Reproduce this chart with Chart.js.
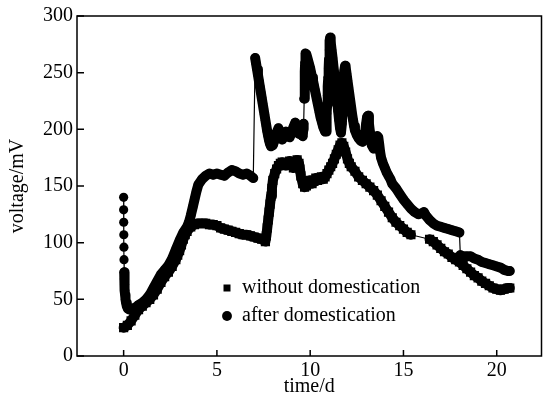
<!DOCTYPE html>
<html><head><meta charset="utf-8">
<script src="https://cdn.jsdelivr.net/npm/chart.js@4/dist/chart.umd.min.js"></script>
<style>html,body{margin:0;padding:0;background:#fff}</style>
</head><body>
<canvas id="c" width="548" height="405"></canvas>
<script>
const xTicks = [0, 5, 10, 15, 20];
const yTicks = [0, 50, 100, 150, 200, 250, 300];
const seriesNames = ['without domestication', 'after domestication'];

const withoutT = [0,0.2,0.4,0.6,0.8,1.0,1.2,1.4,1.6,1.8,
  2.0,2.2,2.4,2.6,2.8,2.9,3.0,3.1,3.2,3.3,
  3.4,3.6,3.8,4.0,4.2,4.4,4.6,4.8,5.0,5.2,
  5.4,5.6,5.8,6.0,6.2,6.4,6.6,6.8,7.0,7.2,
  7.4,7.6,7.65,7.7,7.75,7.8,7.85,7.9,7.95,8.0,
  8.1,8.2,8.3,8.4,8.5,8.6,8.7,8.8,8.9,9.0,
  9.1,9.2,9.3,9.4,9.45,9.5,9.6,9.7,9.8,9.9,
  10.0,10.1,10.2,10.3,10.4,10.5,10.6,10.7,10.8,10.9,
  11.0,11.1,11.2,11.3,11.4,11.5,11.6,11.7,11.8,11.9,
  12.0,12.1,12.2,12.4,12.6,12.8,13.0,13.2,13.4,13.6,
  13.8,14.0,14.2,14.4,14.6,14.8,15.0,15.2,15.4,16.4,
  16.6,16.8,17.0,17.2,17.4,17.6,17.8,18.0,18.2,18.4,
  18.6,18.8,19.0,19.2,19.4,19.6,19.8,20.0,20.2,20.4,
  20.6,20.7];
const withoutV = [25,27,31,36,41,44,47,50,54,59,
  65,70,74,79,85,89,93,98,103,107,
  110,114,116,117,117,117,116,116,115,113,
  112,111,110,109,108,107,107,106,105,104,
  103,101,106,113,120,127,134,141,148,155,
  161,165,168,170,171,170,168,170,172,169,
  166,169,173,170,165,159,152,149,150,153,
  155,152,154,157,155,157,158,156,158,161,
  164,167,170,174,178,182,186,188,185,180,
  174,170,167,163,158,155,152,149,146,142,
  137,132,127,122,118,115,112,109,107,103,
  101,98,95,92,90,87,85,83,80,77,
  74,71,69,66,64,62,60,59,58,59,
  60,60];

const afterT = [0,0,0.005,0.01,0.015,0.02,0.03,0.04,0.05,0.06,
  0.08,0.1,0.13,0.17,0.22,0.3,0.4,0.5,0.65,0.8,
  1.0,1.2,1.4,1.6,1.8,2.0,2.2,2.4,2.6,2.8,
  3.0,3.2,3.4,3.5,3.6,3.7,3.8,3.9,4.0,4.2,
  4.4,4.6,4.8,5.0,5.2,5.4,5.6,5.8,6.0,6.2,
  6.4,6.6,6.8,6.95,7.05,7.1,7.15,7.2,7.25,7.3,
  7.35,7.4,7.45,7.5,7.55,7.6,7.65,7.7,7.75,7.8,
  7.85,7.9,8.0,8.1,8.2,8.3,8.4,8.5,8.6,8.7,
  8.8,8.9,9.0,9.1,9.2,9.3,9.4,9.5,9.6,9.63,
  9.65,9.68,9.7,9.71,9.72,9.73,9.75,9.8,9.85,9.9,
  9.95,10.0,10.05,10.1,10.15,10.2,10.25,10.3,10.35,10.4,
  10.45,10.5,10.55,10.6,10.65,10.7,10.75,10.8,10.85,10.87,
  10.89,10.91,10.93,10.95,10.97,10.99,11.01,11.03,11.05,11.07,
  11.1,11.15,11.2,11.25,11.3,11.35,11.4,11.45,11.5,11.55,
  11.6,11.65,11.7,11.72,11.74,11.76,11.78,11.8,11.83,11.87,
  11.9,11.95,12.0,12.05,12.1,12.15,12.2,12.25,12.3,12.35,
  12.4,12.5,12.6,12.7,12.8,12.9,12.95,13.0,13.05,13.1,
  13.15,13.2,13.25,13.3,13.4,13.5,13.55,13.6,13.65,13.7,
  13.75,13.8,13.9,14.0,14.1,14.2,14.3,14.4,14.6,14.8,
  15.0,15.2,15.4,15.6,15.8,16.0,16.1,16.2,16.4,16.6,
  16.8,17.0,17.2,17.4,17.6,17.8,18.0,18.05,18.2,18.4,
  18.6,18.8,19.0,19.2,19.4,19.6,19.8,20.0,20.2,20.4,
  20.6,20.7];
const afterV = [140,129,118,107,96,85,74,68,63,58,
  54,50,47,44,42,41,41,42,43,45,
  47,50,54,60,66,72,76,80,86,94,
  102,109,114,118,124,131,138,145,151,156,
  159,161,160,161,160,159,162,164,163,161,
  160,161,159,157,263,258,253,248,243,238,
  233,228,223,218,213,208,203,198,194,190,
  187,185,186,191,197,201,196,191,194,198,
  196,193,197,202,206,201,196,199,194,200,
  205,227,235,243,251,259,267,266,263,260,
  257,254,250,246,243,239,235,231,227,223,
  219,215,211,208,205,202,200,198,198,206,
  214,222,230,238,246,254,262,270,278,281,
  277,270,263,255,248,240,232,224,216,208,
  201,197,205,213,221,229,237,245,252,256,
  255,249,243,237,231,225,219,213,208,203,
  199,195,192,190,189,192,198,205,211,212,
  205,198,191,186,183,184,190,194,193,187,
  180,175,170,166,162,159,156,152,148,143,
  138,134,130,127,125,126,127,124,120,117,
  115,114,113,112,111,110,109,89,88,88,
  88,86,85,83,82,81,80,79,78,76,
  75,75];

const FONT = "'Liberation Serif', 'Times New Roman', serif";
const toPts = (t, v) => t.map((x, i) => ({ x: x, y: v[i] }));
const segW = c => Math.hypot(c.p1.x - c.p0.x, c.p1.y - c.p0.y) > 10.5 ? 1.2 : 10;

const framePlugin = {
  id: 'frame',
  afterDatasetsDraw(chart) {
    const { ctx, chartArea: a, scales: { x, y } } = chart;
    ctx.save();
    ctx.strokeStyle = '#000';
    ctx.lineWidth = 1.5;
    ctx.strokeRect(a.left, a.top, a.right - a.left, a.bottom - a.top);
    ctx.beginPath();
    xTicks.forEach(v => { const p = x.getPixelForValue(v); ctx.moveTo(p, a.bottom); ctx.lineTo(p, a.bottom - 6); });
    yTicks.forEach(v => { const p = y.getPixelForValue(v); ctx.moveTo(a.left, p); ctx.lineTo(a.left + 7, p); });
    ctx.stroke();
    ctx.restore();
  }
};
const legendPlace = {
  id: 'legendPlace',
  afterLayout(chart) {
    const lg = chart.legend, a = chart.chartArea;
    if (!lg) return;
    lg.left = a.left + 137;
    lg.top = a.top + 254;
    lg.bottom = a.bottom;
    lg.right = a.right;
  }
};

new Chart(document.getElementById('c'), {
  type: 'line',
  data: {
    datasets: [
      { label: seriesNames[0], data: toPts(withoutT, withoutV), pointStyle: 'rect', pointRadius: 6.5 },
      { label: seriesNames[1], data: toPts(afterT, afterV), pointStyle: 'circle', pointRadius: 4.6 }
    ].map(d => Object.assign(d, {
      borderColor: '#000', backgroundColor: '#000', borderWidth: 10, pointBorderWidth: 0,
      pointHoverRadius: 0, borderCapStyle: 'round', borderJoinStyle: 'round', tension: 0,
      segment: { borderWidth: segW }
    }))
  },
  options: {
    responsive: false, animation: false, events: [],
    layout: { padding: { left: 0, right: 3, top: 15, bottom: 0 } },
    scales: {
      x: {
        type: 'linear', min: -2.5, max: 22.4,
        afterBuildTicks: s => { s.ticks = xTicks.map(v => ({ value: v })); },
        afterFit: s => { s.height = 49; },
        grid: { display: false, drawTicks: false }, border: { display: false },
        ticks: { font: { family: FONT, size: 20 }, color: '#000', padding: 3, maxRotation: 0, autoSkip: false },
        title: { display: true, text: 'time/d', font: { family: FONT, size: 20 }, color: '#000', padding: { top: 0, bottom: 6 } }
      },
      y: {
        type: 'linear', min: 0, max: 300,
        afterBuildTicks: s => { s.ticks = yTicks.map(v => ({ value: v })); },
        afterFit: s => { s.width = 77; },
        grid: { display: false, drawTicks: false }, border: { display: false },
        ticks: { font: { family: FONT, size: 20 }, color: '#000', padding: 4 },
        title: { display: true, text: 'voltage/mV', font: { family: FONT, size: 20 }, color: '#000', padding: { top: 6, bottom: 0 } }
      }
    },
    plugins: {
      tooltip: { enabled: false },
      legend: {
        position: 'chartArea', align: 'start',
        labels: {
          usePointStyle: true, boxWidth: 10, boxHeight: 7, padding: 8, color: '#000',
          font: { family: FONT, size: 20 },
          generateLabels: chart => Chart.defaults.plugins.legend.labels.generateLabels(chart).map(l => Object.assign(l, { lineWidth: 0 }))
        }
      }
    }
  },
  plugins: [framePlugin, legendPlace]
});
</script>
</body></html>
